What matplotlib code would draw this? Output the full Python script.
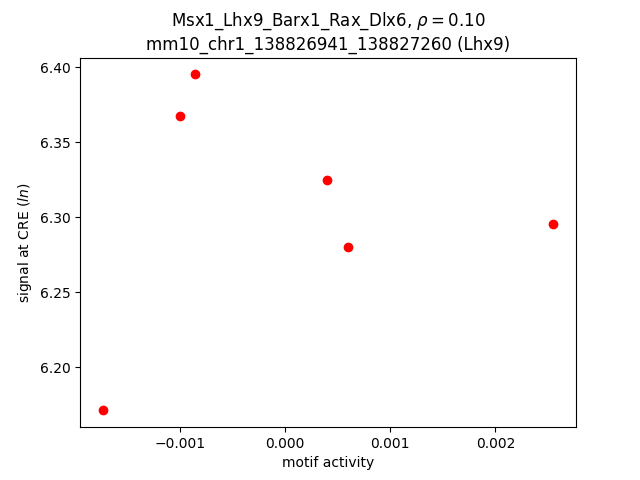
import matplotlib
matplotlib.use("Agg")
import matplotlib.pyplot as plt

motif_activity = [-0.001733, -0.001, -0.000857, 0.0004, 0.0006, 0.002552]
signal = [6.1713, 6.3673, 6.3953, 6.3247, 6.2800, 6.2953]

fig = plt.figure(figsize=(6.4, 4.8), dpi=100)
plt.plot(motif_activity, signal, 'ro')
plt.xlabel("motif activity")
plt.ylabel("signal at CRE ($ln$)")
plt.title("Msx1_Lhx9_Barx1_Rax_Dlx6, $\\rho = 0.10$\nmm10_chr1_138826941_138827260 (Lhx9)")
plt.savefig("out.png")
